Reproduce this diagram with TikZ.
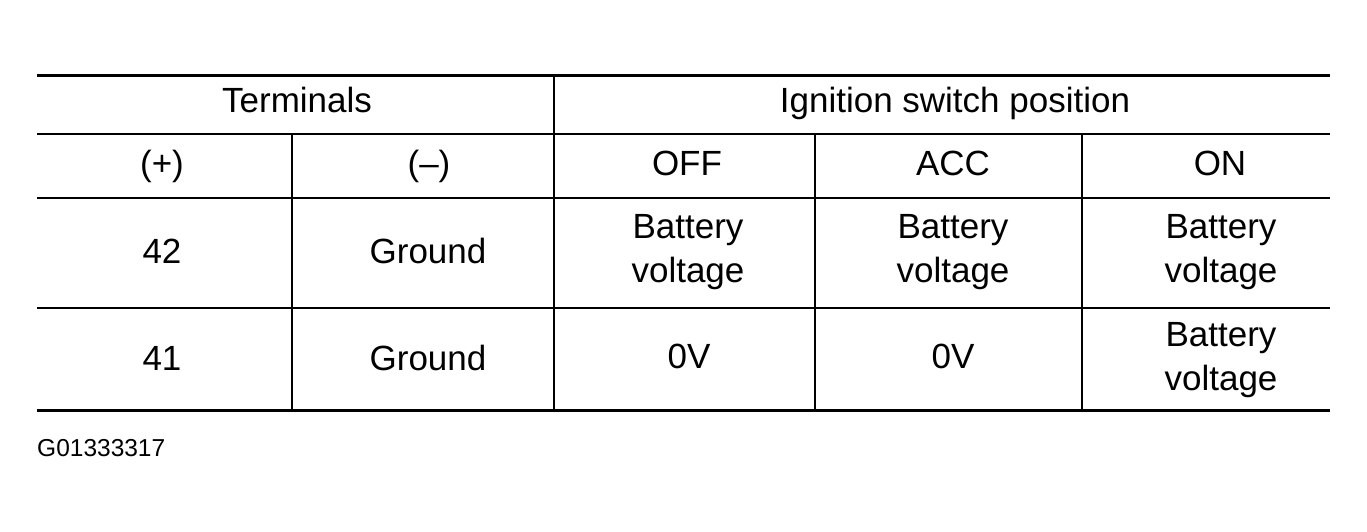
\documentclass[tikz,border=0pt]{standalone}
\usepackage{fontspec}
\setmainfont{Liberation Sans}
\begin{document}
\begin{tikzpicture}[x=1pt,y=-1pt,
  cell/.style={align=center,inner sep=0pt,anchor=base,font=\fontsize{35}{43.5}\selectfont},
  thick rule/.style={line width=3pt},
  thin rule/.style={line width=2pt}]
\useasboundingbox (0,0) rectangle (1367,532);
% horizontal rules
\draw[thick rule] (37,76) -- (1330,76);
\draw[thin rule] (37,134) -- (1330,134);
\draw[thin rule] (37,198) -- (1330,198);
\draw[thin rule] (37,308) -- (1330,308);
\draw[thick rule] (37,410) -- (1330,410);
% vertical rules
\draw[thin rule] (554,76) -- (554,410);
\draw[thin rule] (292,134) -- (292,410);
\draw[thin rule] (815,134) -- (815,410);
\draw[thin rule] (1082,134) -- (1082,410);
% header
\node[cell] (term) at (297,113) {Terminals};
\node[cell] (ign) at (955,113) {Ignition switch position};
\node[cell] (plus) at (162,175) {(+)};
\node[cell] (minus) at (429,175) {(–)};
\node[cell] (off) at (687,175) {OFF};
\node[cell] (acc) at (953,175) {ACC};
\node[cell] (on) at (1220,175) {ON};
% row 1
\node[cell] (r1a) at (162,263) {42};
\node[cell] (r1b) at (428,263) {Ground};
\node[cell] (r1c) at (688,282) {Battery\\voltage};
\node[cell] (r1d) at (953,282) {Battery\\voltage};
\node[cell] (r1e) at (1221,282) {Battery\\voltage};
% row 2
\node[cell] (r2a) at (162,370) {41};
\node[cell] (r2b) at (428,370) {Ground};
\node[cell] (r2c) at (689,368) {0V};
\node[cell] (r2d) at (953,368) {0V};
\node[cell] (r2e) at (1221,390) {Battery\\voltage};
% figure id
\node[anchor=base west,inner sep=0pt,font=\fontsize{24.5}{28}\selectfont] (fig) at (37,456) {G01333317};
\end{tikzpicture}
\end{document}
